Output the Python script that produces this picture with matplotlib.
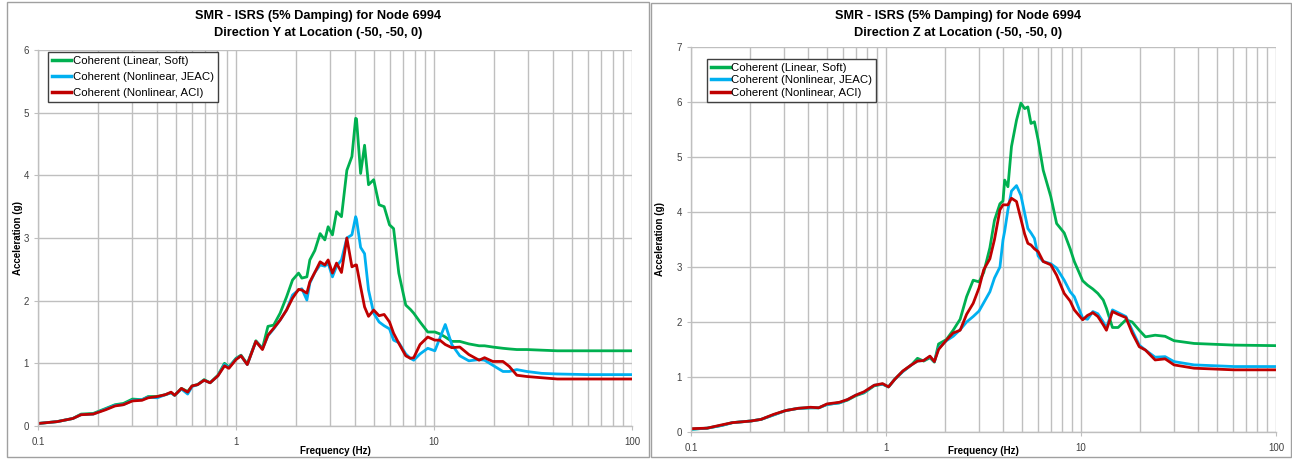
import matplotlib
matplotlib.use("Agg")
import matplotlib.pyplot as plt
from matplotlib.patches import Rectangle
from matplotlib.ticker import LogLocator, FixedLocator, NullFormatter

# --- Direction Y panel ---
freq_y = [0.1, 0.125, 0.15, 0.165, 0.19, 0.22, 0.245, 0.27, 0.3, 0.335, 0.36, 0.4,
          0.44, 0.47, 0.49, 0.53, 0.57, 0.6, 0.64, 0.69, 0.74, 0.81, 0.875, 0.92,
          1.0, 1.06, 1.14, 1.26, 1.36, 1.45, 1.55, 1.67, 1.8, 1.93, 2.07, 2.15,
          2.28, 2.36, 2.5, 2.66, 2.81, 2.92, 3.07, 3.22, 3.41, 3.63, 3.85, 4.02,
          4.06, 4.26, 4.46, 4.67, 4.96, 5.28, 5.6, 5.96, 6.25, 6.64, 7.2, 7.6,
          7.9, 8.5, 9.3, 10.1, 10.7, 11.4, 12.3, 13.5, 15.0, 16.9, 18.0, 19.8,
          22.3, 24.0, 26.2, 29.4, 35.0, 42.0, 60.0, 100.0]
linear_soft_y = [0.04, 0.07, 0.12, 0.19, 0.20, 0.28, 0.34, 0.36, 0.43, 0.42, 0.47, 0.47,
                 0.50, 0.53, 0.49, 0.60, 0.55, 0.64, 0.66, 0.74, 0.69, 0.81, 1.00, 0.94,
                 1.08, 1.13, 0.99, 1.36, 1.24, 1.59, 1.61, 1.80, 2.06, 2.33, 2.44, 2.36,
                 2.38, 2.65, 2.80, 3.07, 2.97, 3.18, 3.05, 3.42, 3.34, 4.08, 4.30, 4.91,
                 4.90, 4.03, 4.48, 3.85, 3.93, 3.53, 3.50, 3.21, 3.15, 2.44, 1.93, 1.86,
                 1.80, 1.66, 1.50, 1.50, 1.47, 1.42, 1.35, 1.35, 1.31, 1.28, 1.28, 1.26,
                 1.24, 1.23, 1.22, 1.22, 1.21, 1.20, 1.20, 1.20]
nonlin_jeac_y = [0.04, 0.07, 0.12, 0.18, 0.19, 0.27, 0.33, 0.34, 0.41, 0.42, 0.46, 0.45,
                 0.50, 0.53, 0.49, 0.59, 0.51, 0.63, 0.66, 0.73, 0.69, 0.80, 0.98, 0.93,
                 1.07, 1.12, 0.98, 1.35, 1.23, 1.44, 1.55, 1.69, 1.85, 2.09, 2.17, 2.19,
                 2.01, 2.28, 2.45, 2.57, 2.55, 2.60, 2.38, 2.55, 2.65, 3.00, 3.05, 3.34,
                 3.30, 2.85, 2.75, 2.17, 1.80, 1.66, 1.60, 1.55, 1.37, 1.33, 1.15, 1.08,
                 1.05, 1.15, 1.24, 1.20, 1.40, 1.62, 1.30, 1.12, 1.04, 1.06, 1.05, 0.97,
                 0.87, 0.87, 0.90, 0.87, 0.84, 0.83, 0.82, 0.82]
nonlin_aci_y = [0.04, 0.07, 0.12, 0.18, 0.19, 0.26, 0.32, 0.34, 0.40, 0.41, 0.45, 0.47,
                0.50, 0.54, 0.49, 0.60, 0.54, 0.64, 0.66, 0.73, 0.69, 0.80, 0.96, 0.92,
                1.06, 1.12, 0.98, 1.35, 1.22, 1.45, 1.56, 1.69, 1.85, 2.04, 2.18, 2.17,
                2.12, 2.30, 2.45, 2.62, 2.57, 2.65, 2.44, 2.60, 2.45, 3.00, 2.54, 2.57,
                2.57, 2.22, 1.90, 1.75, 1.85, 1.76, 1.78, 1.66, 1.48, 1.32, 1.12, 1.08,
                1.09, 1.30, 1.42, 1.37, 1.37, 1.30, 1.25, 1.26, 1.14, 1.05, 1.09, 1.03,
                1.03, 0.95, 0.81, 0.79, 0.77, 0.75, 0.75, 0.75]

# --- Direction Z panel ---
freq_z = [0.1, 0.121, 0.144, 0.163, 0.203, 0.229, 0.265, 0.306, 0.354, 0.41, 0.452,
          0.498, 0.576, 0.635, 0.70, 0.77, 0.87, 0.96, 1.03, 1.11, 1.22, 1.35, 1.45,
          1.56, 1.68, 1.77, 1.86, 2.04, 2.21, 2.4, 2.59, 2.8, 3.0, 3.17, 3.41, 3.6,
          3.84, 3.98, 4.06, 4.22, 4.4, 4.67, 4.92, 5.14, 5.34, 5.54, 5.77, 6.03, 6.4,
          7.0, 7.5, 8.2, 8.8, 9.24, 10.2, 10.8, 11.5, 12.2, 13.0, 13.5, 14.5, 15.5,
          17.0, 18.3, 19.9, 21.4, 24.0, 27.0, 30.0, 38.0, 61.0, 100.0]
linear_soft_z = [0.05, 0.07, 0.12, 0.17, 0.20, 0.23, 0.31, 0.39, 0.43, 0.44, 0.44,
                 0.50, 0.53, 0.58, 0.66, 0.71, 0.84, 0.87, 0.82, 0.96, 1.10, 1.22, 1.34,
                 1.29, 1.35, 1.27, 1.60, 1.68, 1.85, 2.05, 2.46, 2.76, 2.73, 2.90, 3.35, 3.85,
                 4.15, 4.20, 4.58, 4.46, 5.19, 5.67, 5.98, 5.88, 5.91, 5.61, 5.64, 5.31, 4.76,
                 4.28, 3.79, 3.62, 3.33, 3.10, 2.75, 2.67, 2.60, 2.52, 2.40, 2.25, 1.90, 1.90,
                 2.04, 2.00, 1.85, 1.73, 1.76, 1.74, 1.66, 1.61, 1.58, 1.57]
nonlin_jeac_z = [0.05, 0.07, 0.12, 0.17, 0.20, 0.23, 0.31, 0.39, 0.43, 0.44, 0.44,
                 0.50, 0.53, 0.59, 0.67, 0.72, 0.85, 0.87, 0.82, 0.96, 1.10, 1.22, 1.29,
                 1.30, 1.37, 1.28, 1.52, 1.66, 1.74, 1.86, 2.00, 2.10, 2.20, 2.35, 2.55, 2.80,
                 3.00, 3.49, 3.65, 4.04, 4.38, 4.48, 4.30, 3.98, 3.70, 3.62, 3.52, 3.20, 3.10,
                 3.06, 2.98, 2.76, 2.55, 2.46, 2.07, 2.05, 2.19, 2.15, 2.00, 1.89, 2.22, 2.17,
                 2.10, 1.85, 1.58, 1.49, 1.36, 1.37, 1.28, 1.22, 1.19, 1.19]
nonlin_aci_z = [0.06, 0.07, 0.13, 0.17, 0.20, 0.23, 0.32, 0.39, 0.43, 0.45, 0.44,
                0.51, 0.54, 0.59, 0.67, 0.73, 0.85, 0.88, 0.82, 0.96, 1.11, 1.22, 1.29,
                1.30, 1.38, 1.28, 1.50, 1.67, 1.80, 1.85, 2.14, 2.34, 2.62, 2.95, 3.15, 3.50,
                4.04, 4.13, 4.13, 4.13, 4.25, 4.19, 3.87, 3.60, 3.43, 3.40, 3.33, 3.28, 3.10,
                3.04, 2.85, 2.52, 2.38, 2.22, 2.04, 2.12, 2.17, 2.10, 1.95, 1.85, 2.19, 2.14,
                2.08, 1.80, 1.55, 1.49, 1.31, 1.33, 1.22, 1.16, 1.13, 1.13]

series_labels = ["Coherent (Linear, Soft)", "Coherent (Nonlinear, JEAC)",
                 "Coherent (Nonlinear, ACI)"]
series_colors = ["#00b050", "#00b0f0", "#c00000"]
GRID = "#bfbfbf"
FONT = "Liberation Sans"


def draw_panel(ax, freq, curves, ymax, leg_anchor, leg_spacing, xlab_y, ylab_x):
    for vals, lab, col in zip(curves, series_labels, series_colors):
        ax.plot(freq, vals, color=col, lw=2.0, label=lab, solid_joinstyle="round")
    ax.set_xscale("log")
    ax.set_xlim(0.1, 100)
    ax.set_ylim(0, ymax)
    ax.xaxis.set_major_locator(FixedLocator([0.1, 1, 10, 100]))
    ax.set_xticklabels(["0.1", "1", "10", "100"])
    ax.xaxis.set_minor_locator(LogLocator(base=10, subs=range(2, 10)))
    ax.xaxis.set_minor_formatter(NullFormatter())
    ax.set_yticks(range(ymax + 1))
    ax.grid(True, which="both", axis="x", color=GRID, lw=1.0)
    ax.grid(True, which="major", axis="y", color=GRID, lw=1.0)
    ax.set_axisbelow(True)
    for s in ["top", "right"]:
        ax.spines[s].set_visible(False)
    for s in ["left", "bottom"]:
        ax.spines[s].set_color(GRID)
        ax.spines[s].set_linewidth(1.0)
    ax.tick_params(axis="both", which="major", length=3, color=GRID,
                   labelsize=7, labelcolor="#404040")
    ax.tick_params(axis="x", which="minor", length=0)
    ax.tick_params(axis="x", pad=5)
    for t in ax.get_xticklabels() + ax.get_yticklabels():
        t.set_fontfamily(FONT)
    ax.set_xlabel("Frequency (Hz)", fontsize=7, fontweight="bold", family=FONT)
    ax.set_ylabel("Acceleration (g)", fontsize=7, fontweight="bold", family=FONT)
    ax.xaxis.set_label_coords(0.5, xlab_y)
    ax.yaxis.set_label_coords(ylab_x, 0.5)
    ax.xaxis.label.set_va("center")
    ax.yaxis.label.set_va("center")
    leg = ax.legend(loc="upper left", bbox_to_anchor=leg_anchor, fancybox=False,
                    framealpha=1, edgecolor="#404040", borderpad=0.35,
                    labelspacing=leg_spacing, handlelength=1.7, handletextpad=0.1,
                    borderaxespad=0, prop={"family": FONT, "size": 8.2})
    leg.get_frame().set_linewidth(1.0)
    for line in leg.get_lines():
        line.set_linewidth(2.5)


def main():
    fig = plt.figure(figsize=(12.92, 4.59), dpi=100)

    # chart area borders
    fig.patches.append(Rectangle((7 / 1292, 2 / 459), 642 / 1292, 455 / 459,
                                 transform=fig.transFigure, fill=False,
                                 edgecolor="#a0a0a0", lw=1.0))
    fig.patches.append(Rectangle((651 / 1292, 2 / 459), 640 / 1292, 454 / 459,
                                 transform=fig.transFigure, fill=False,
                                 edgecolor="#a0a0a0", lw=1.0))

    ax1 = fig.add_axes([38 / 1292, 1 - 426 / 459, 594 / 1292, 376 / 459])
    draw_panel(ax1, freq_y, [linear_soft_y, nonlin_jeac_y, nonlin_aci_y], 6,
               (0.017, 0.995), 0.55, -25 / 376, -20 / 594)

    ax2 = fig.add_axes([691 / 1292, 1 - 432 / 459, 585 / 1292, 385 / 459])
    draw_panel(ax2, freq_z, [linear_soft_z, nonlin_jeac_z, nonlin_aci_z], 7,
               (0.027, 0.969), 0.22, -19 / 385, -31 / 585)

    title_kw = dict(ha="center", va="center", fontsize=9.2, fontweight="bold", family=FONT)
    fig.text(318 / 1292, 1 - 16 / 459, "SMR - ISRS (5% Damping) for Node 6994", **title_kw)
    fig.text(318 / 1292, 1 - 33 / 459, "Direction Y at Location (-50, -50, 0)", **title_kw)
    fig.text(958 / 1292, 1 - 16 / 459, "SMR - ISRS (5% Damping) for Node 6994", **title_kw)
    fig.text(958 / 1292, 1 - 33 / 459, "Direction Z at Location (-50, -50, 0)", **title_kw)

    fig.savefig("out.png", dpi=100)


if __name__ == "__main__":
    main()
